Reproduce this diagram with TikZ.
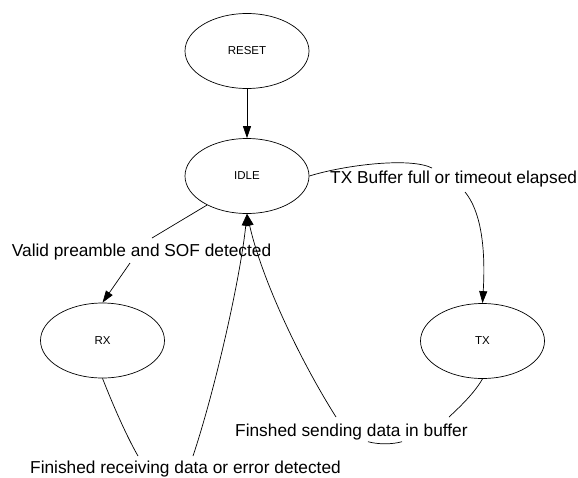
\documentclass[tikz,border=0pt]{standalone}
\usepackage{fontspec}
\setmainfont{Liberation Sans}
\usetikzlibrary{shapes.geometric,arrows.meta}
\begin{document}
\begin{tikzpicture}[x=1pt,y=-1pt,
  state/.style={draw,ellipse,minimum width=124pt,minimum height=75pt,inner sep=0pt,line width=0.7pt,font=\fontsize{11.5}{13}\selectfont},
  lbl/.style={inner sep=0pt,anchor=base west,font=\fontsize{17.3}{20}\selectfont},
  conn/.style={line width=0.7pt},
  arr/.style={conn,-{Triangle[length=12pt,width=8pt]}}]
\useasboundingbox (0,0) rectangle (578,477);
\node[state] (reset) at (247,51) {RESET};
\node[state] (idle) at (247,176) {IDLE};
\node[state] (rx) at (102.5,340.5) {RX};
\node[state] (tx) at (482.5,341) {TX};
\node[lbl] (ltx) at (330,183) {TX Buffer full or timeout elapsed};
\node[lbl] (lrx) at (11.7,256.7) {Valid preamble and SOF detected};
\node[lbl] (lsend) at (235,436.7) {Finshed sending data in buffer};
\node[lbl] (lrecv) at (30,473) {Finished receiving data or error detected};
% RESET -> IDLE
\draw[arr] (reset.south) -- (idle.north);
% IDLE -> RX
\coordinate (a1) at (152,238);
\coordinate (a2) at (130,263);
\draw[conn] (idle.216) -- (a1);
\draw[arr] (a2) -- (rx.north);
% IDLE -> TX
\coordinate (b1) at (432,168);
\coordinate (b2) at (465,192);
\draw[conn] (idle.east) .. controls (345,165) and (410,157) .. (b1);
\draw[arr] (b2) .. controls (480,210) and (486,245) .. (tx.north);
% RX -> IDLE
\coordinate (c1) at (138,456);
\coordinate (c2) at (193,456);
\draw[conn] (rx.south) .. controls (113,405) and (126,435) .. (c1);
\draw[arr] (c2) .. controls (215,390) and (240,280) .. (idle.south);
% TX -> IDLE
\coordinate (d1) at (449,417);
\coordinate (d2) at (336,417);
\coordinate (e1) at (368,441.7);
\coordinate (e2) at (402,441.7);
\draw[conn] (tx.south) .. controls (475,392) and (462,405) .. (d1);
\draw[conn] (e1) .. controls (378,444.5) and (392,444.5) .. (e2);
\draw[arr] (d2) .. controls (300,360) and (262,280) .. (idle.south);
\end{tikzpicture}
\end{document}
